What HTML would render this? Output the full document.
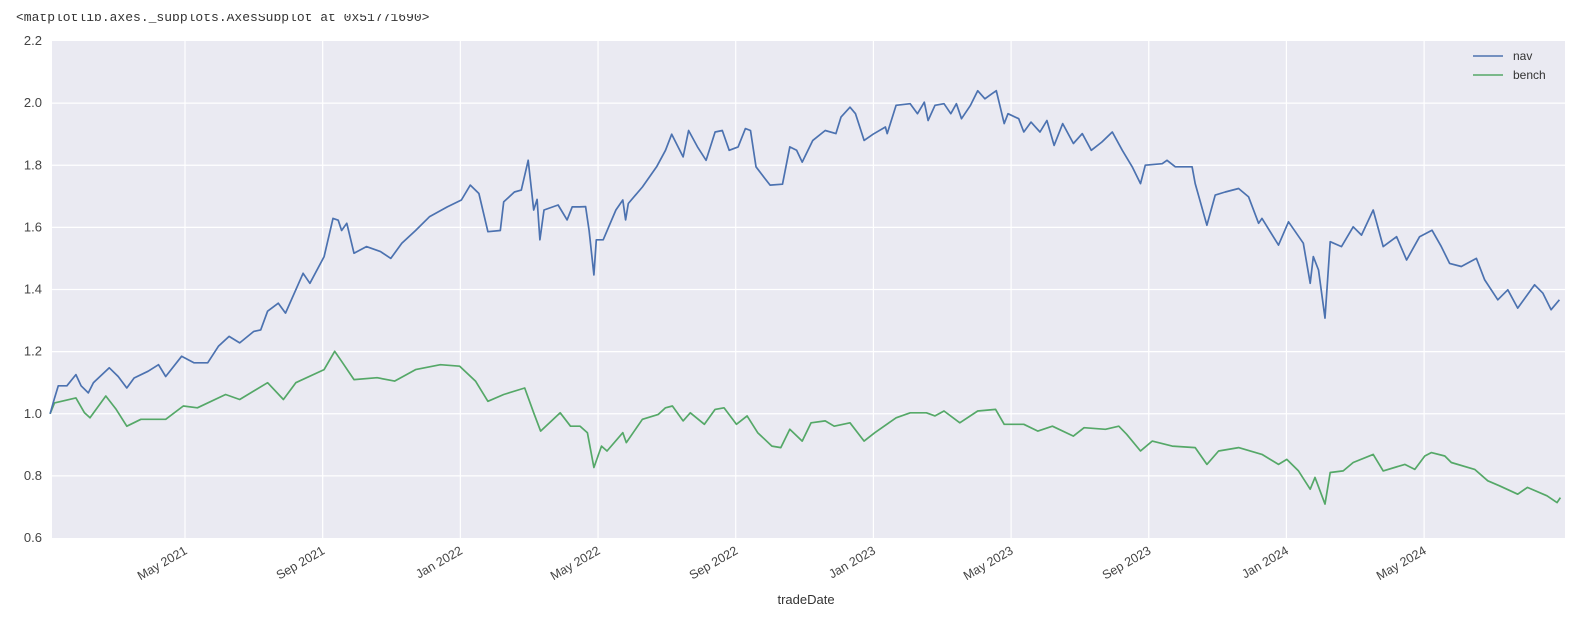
<!DOCTYPE html>
<html><head><meta charset="utf-8"><style>
html,body{margin:0;padding:0;background:#fff;width:1572px;height:621px;overflow:hidden}
svg{display:block}
text{font-family:"Liberation Sans","DejaVu Sans",sans-serif}
</style></head><body>
<svg id="chart" width="1572" height="621" viewBox="0 0 1572 621" xmlns="http://www.w3.org/2000/svg">
<text x="16" y="21" font-size="13" fill="#333" style="font-family:'Liberation Mono',monospace">&lt;matplotlib.axes._subplots.AxesSubplot at 0x51771690&gt;</text>
<rect x="0" y="0" width="1572" height="14" fill="#fff"/>
<rect x="52" y="41" width="1513" height="497" fill="#EAEAF2"/>
<g id="grid"></g>
<g id="yticks"></g>
<g id="xticks"></g>
<g id="series"></g>
<text x="806" y="604" font-size="13" fill="#333" text-anchor="middle">tradeDate</text>
<g>
<line x1="1473" y1="56" x2="1503" y2="56" stroke="#4C72B0" stroke-width="1.6"/>
<text x="1513" y="60" font-size="12" fill="#333">nav</text>
<line x1="1473" y1="75" x2="1503" y2="75" stroke="#55A868" stroke-width="1.6"/>
<text x="1513" y="79" font-size="12" fill="#333">bench</text>
</g>
</svg>
<script>
// time in months since 2021-01-01
const navMonths=[0.08,0.21,0.32,0.57,0.83,0.98,1.19,1.34,1.8,2.06,2.31,2.52,2.93,3.23,3.44,3.9,4.26,4.66,4.97,5.28,5.59,6.0,6.2,6.4,6.71,6.92,7.43,7.63,8.04,8.3,8.45,8.55,8.7,8.91,9.27,9.68,9.98,10.3,10.7,11.1,11.62,12.03,12.29,12.54,12.8,13.16,13.26,13.57,13.77,13.97,14.13,14.23,14.31,14.43,14.84,15.1,15.25,15.46,15.64,15.74,15.88,15.95,16.15,16.52,16.72,16.8,16.88,17.29,17.7,17.96,18.14,18.47,18.63,18.89,19.14,19.4,19.61,19.81,20.07,20.28,20.43,20.59,20.85,21.0,21.36,21.57,21.77,21.93,22.24,22.6,22.91,23.06,23.32,23.48,23.73,23.99,24.35,24.4,24.66,25.07,25.28,25.48,25.59,25.79,26.05,26.25,26.41,26.56,26.82,27.03,27.24,27.44,27.57,27.8,27.91,28.22,28.37,28.58,28.84,29.04,29.25,29.5,29.81,30.07,30.33,30.64,30.94,31.23,31.52,31.76,31.9,32.39,32.53,32.77,33.26,33.35,33.69,33.93,34.22,34.61,34.9,35.19,35.29,35.77,36.06,36.49,36.69,36.78,36.93,37.12,37.27,37.6,37.94,38.18,38.52,38.81,39.2,39.49,39.87,40.23,40.5,40.74,41.08,41.52,41.76,42.14,42.43,42.72,43.21,43.45,43.69,43.93];
const navValues=[1.0,1.05,1.09,1.09,1.126,1.09,1.067,1.10,1.148,1.12,1.083,1.115,1.137,1.158,1.12,1.185,1.164,1.164,1.217,1.249,1.228,1.265,1.27,1.33,1.356,1.324,1.452,1.42,1.506,1.629,1.623,1.59,1.613,1.517,1.538,1.522,1.5,1.549,1.59,1.634,1.666,1.688,1.736,1.709,1.586,1.59,1.682,1.714,1.72,1.816,1.656,1.69,1.56,1.656,1.672,1.624,1.666,1.666,1.667,1.59,1.447,1.56,1.56,1.656,1.688,1.624,1.677,1.73,1.795,1.848,1.9,1.827,1.912,1.859,1.816,1.907,1.912,1.848,1.859,1.918,1.912,1.795,1.757,1.736,1.739,1.859,1.848,1.81,1.88,1.912,1.902,1.955,1.987,1.966,1.88,1.9,1.923,1.902,1.993,1.998,1.966,2.003,1.944,1.993,1.998,1.966,1.998,1.95,1.993,2.04,2.014,2.03,2.04,1.934,1.966,1.95,1.907,1.939,1.907,1.944,1.864,1.934,1.87,1.902,1.848,1.875,1.907,1.848,1.795,1.741,1.8,1.805,1.816,1.795,1.795,1.741,1.607,1.704,1.714,1.725,1.698,1.613,1.629,1.543,1.618,1.549,1.42,1.506,1.463,1.308,1.554,1.538,1.602,1.575,1.656,1.538,1.57,1.495,1.57,1.591,1.538,1.484,1.474,1.5,1.431,1.367,1.399,1.34,1.415,1.388,1.335,1.367];
const benchMonths=[0.08,0.21,0.83,1.08,1.24,1.7,2.0,2.31,2.72,3.44,3.95,4.36,5.18,5.59,6.4,6.86,7.22,8.04,8.35,8.55,8.91,9.58,10.09,10.7,11.42,11.98,12.44,12.8,13.26,13.87,14.13,14.33,14.9,15.2,15.48,15.69,15.88,16.1,16.26,16.72,16.82,17.29,17.75,17.96,18.16,18.47,18.68,19.09,19.4,19.66,20.02,20.33,20.64,21.05,21.31,21.57,21.93,22.19,22.6,22.86,23.32,23.73,24.04,24.66,25.07,25.54,25.79,26.05,26.51,27.03,27.55,27.8,28.37,28.78,29.2,29.81,30.12,30.74,31.13,31.36,31.76,32.1,32.68,33.35,33.69,34.03,34.61,35.29,35.77,36.01,36.35,36.69,36.83,37.12,37.27,37.65,37.94,38.52,38.81,39.44,39.73,40.02,40.21,40.6,40.79,41.47,41.85,42.19,42.72,43.0,43.57,43.86,43.96];
const benchValues=[1.0,1.035,1.051,1.003,0.987,1.057,1.014,0.96,0.982,0.982,1.025,1.019,1.062,1.046,1.1,1.046,1.1,1.142,1.201,1.169,1.11,1.116,1.105,1.142,1.158,1.153,1.105,1.04,1.062,1.083,1.003,0.944,1.003,0.96,0.96,0.939,0.827,0.896,0.88,0.939,0.907,0.982,0.998,1.019,1.025,0.977,1.003,0.966,1.014,1.019,0.966,0.993,0.939,0.896,0.891,0.95,0.912,0.971,0.977,0.96,0.971,0.912,0.939,0.987,1.003,1.003,0.993,1.009,0.971,1.009,1.014,0.966,0.966,0.944,0.96,0.928,0.955,0.95,0.96,0.934,0.88,0.912,0.896,0.891,0.837,0.88,0.891,0.869,0.837,0.853,0.816,0.757,0.795,0.709,0.811,0.816,0.843,0.869,0.816,0.837,0.821,0.864,0.875,0.864,0.843,0.821,0.784,0.768,0.741,0.763,0.736,0.714,0.73];
const yTicks=[0.6,0.8,1.0,1.2,1.4,1.6,1.8,2.0,2.2];
const yTickLabels=["0.6","0.8","1.0","1.2","1.4","1.6","1.8","2.0","2.2"];
const xTickMonths=[4,8,12,16,20,24,28,32,36,40];
const xTickLabels=["May 2021","Sep 2021","Jan 2022","May 2022","Sep 2022","Jan 2023","May 2023","Sep 2023","Jan 2024","May 2024"];

const NS="http://www.w3.org/2000/svg";
const L=52,R=1565,T=41,B=538;
const yMin=0.6,yMax=2.2;
function xs(m){return 185+(m-4)*34.42;}
function ys(v){return B-(v-yMin)/(yMax-yMin)*(B-T);}
function mk(tag,attrs,parent){const e=document.createElementNS(NS,tag);for(const k in attrs)e.setAttribute(k,attrs[k]);parent.appendChild(e);return e;}
const grid=document.getElementById('grid'),yt=document.getElementById('yticks'),xt=document.getElementById('xticks'),ser=document.getElementById('series');
yTicks.forEach((v,i)=>{
  const y=ys(v);
  if(i>0&&i<yTicks.length-1){
    const g=mk('line',{x1:L,x2:R,y1:y,y2:y,stroke:'#fff','stroke-width':1.2},grid);
    
    
  }
  const t=mk('text',{x:42,y:y+4,'font-size':13,fill:'#444','text-anchor':'end'},yt);
  t.textContent=yTickLabels[i];
  
  
});
xTickMonths.forEach((m,i)=>{
  const x=xs(m);
  const g=mk('line',{x1:x,x2:x,y1:T,y2:B,stroke:'#fff','stroke-width':1.2},grid);
  
  
  const t=mk('text',{x:x+3,y:553,'font-size':12.5,fill:'#444','text-anchor':'end',transform:`rotate(-30 ${x+3} 553)`},xt);
  t.textContent=xTickLabels[i];
  
  
});
function line(ms,vs,color,name){
  const d=ms.map((m,i)=>(i?'L':'M')+xs(m).toFixed(1)+' '+ys(vs[i]).toFixed(1)).join(' ');
  const p=mk('path',{d:d,fill:'none',stroke:color,'stroke-width':1.7,'stroke-linejoin':'round'},ser);
  
  
}
line(benchMonths,benchValues,'#55A868','bench-line');
line(navMonths,navValues,'#4C72B0','nav-line');
</script>
</body></html>
